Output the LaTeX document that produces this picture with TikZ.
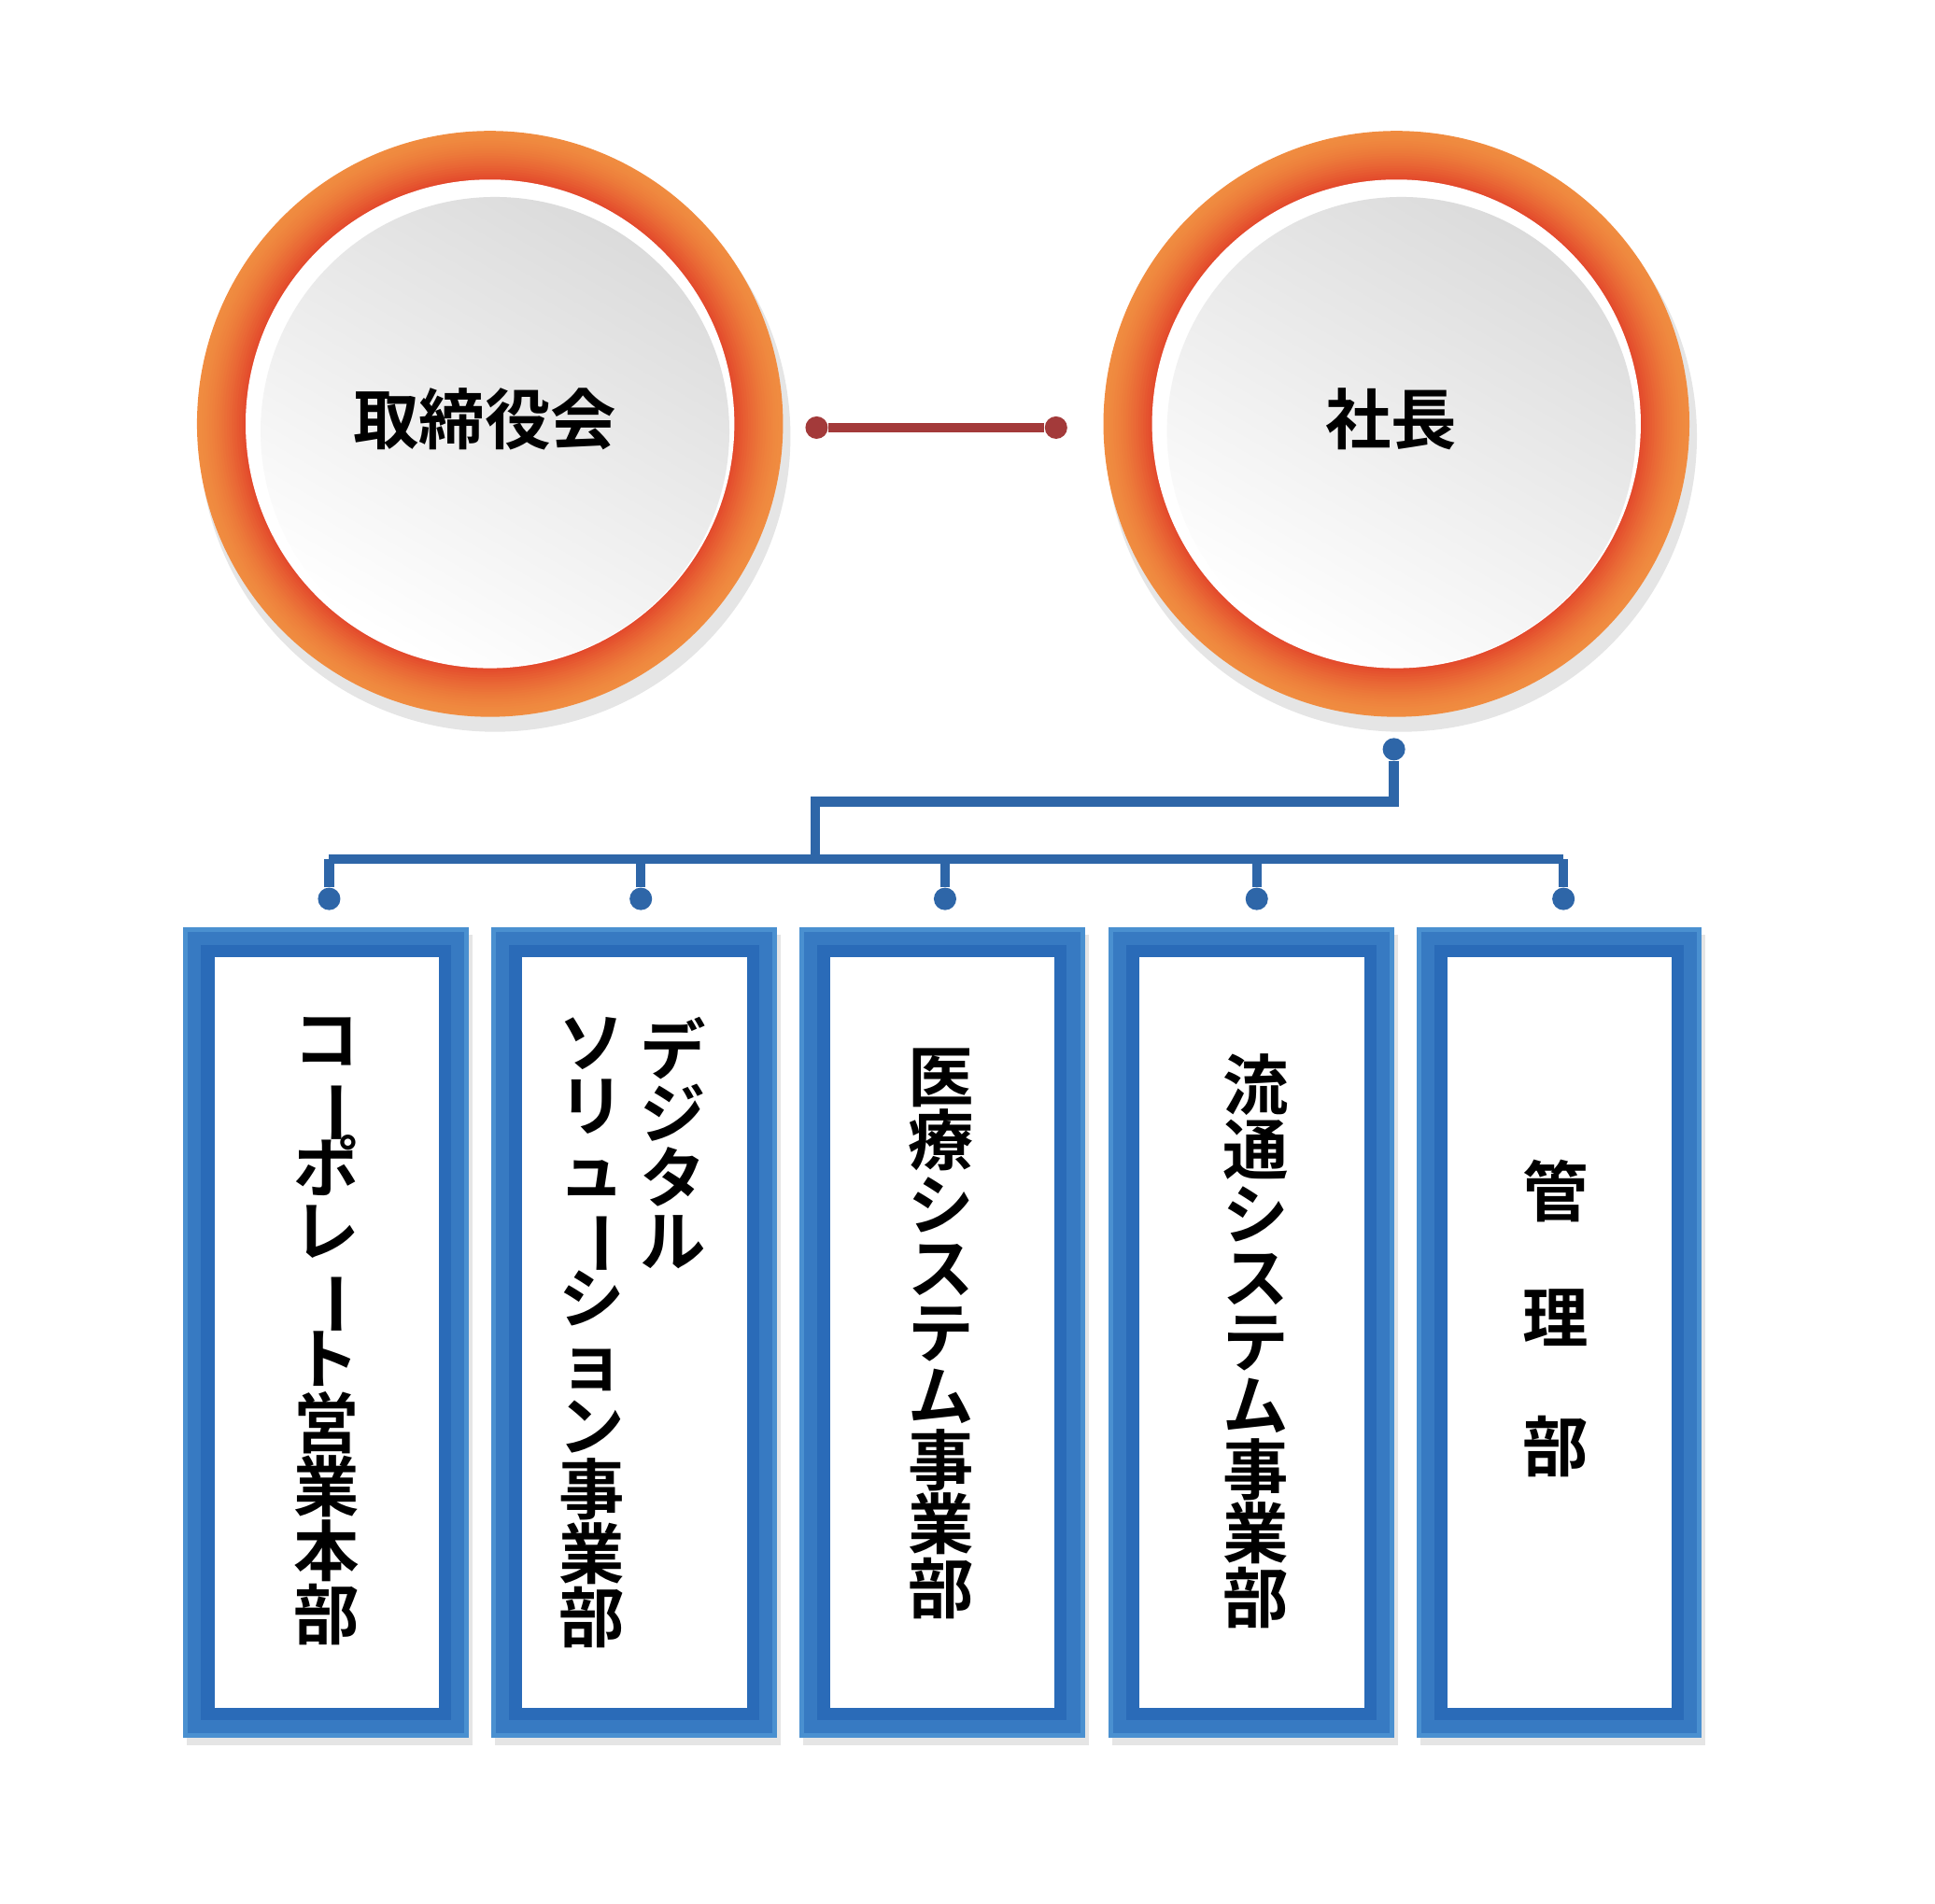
\documentclass[tikz,border=0pt]{standalone}
\usepackage{fontspec}
\setmainfont{Noto Sans CJK JP}[BoldFont={Noto Sans CJK JP Bold}]
\definecolor{ringred}{HTML}{E2432A}
\definecolor{ringor}{HTML}{F08C40}
\definecolor{linered}{HTML}{A33A3A}
\definecolor{lineblue}{HTML}{2E66A8}
\definecolor{frameblue}{HTML}{4A90D0}
\definecolor{framedark}{HTML}{2A6BB8}
\newcommand{\V}{\smash{\rotatebox[origin=c]{-90}{ー}}}
\tikzset{
  dotr/.style={circle,fill=linered,inner sep=0pt,minimum size=0.18cm},
  dotb/.style={circle,fill=lineblue,inner sep=0pt,minimum size=0.18cm},
  vtxt/.style={anchor=north,align=center,font=\fontsize{15pt}{14.6pt}\selectfont\bfseries,inner sep=0pt},
  ctxt/.style={font=\fontsize{15pt}{18pt}\selectfont\bfseries}
}
\begin{document}
\begin{tikzpicture}[x=0.01cm,y=-0.01cm]
\useasboundingbox[fill=white] (0,0) rectangle (1552,1527);
% circles
\foreach \cx/\nm/\t in {393/bd/取締役会,1120/pr/社長}{
  \fill[black,opacity=0.10] (\cx+4,350) circle (237);
  \foreach \i in {0,...,20}{
    \pgfmathsetmacro{\p}{100*(\i/20)^1.5}
    \fill[ringred!\p!ringor] (\cx,340) circle ({235-\i*2});
  }
  \fill[white] (\cx,340) circle (196);
  \shade[top color=gray!28,bottom color=white,shading angle=-30] (\cx+4,346) circle (188);
  \node[ctxt] (\nm) at (\cx-4,336) {\t};
}
% red connector
\node[dotr] (r1) at (655,343) {};
\node[dotr] (r2) at (847,343) {};
\draw[linered,line width=2.2pt] (r1) -- (r2);
% boxes
\foreach \x in {147,394,641,889,1136}{
  \fill[black,opacity=0.10] (\x+3,750) rectangle (\x+232,1400);
  \fill[frameblue] (\x,744) rectangle (\x+229,1394);
  \draw[framedark,line width=4pt] (\x+19,763) rectangle (\x+210,1375);
  \draw[framedark!60!frameblue,line width=3pt] (\x+9,753) rectangle (\x+220,1385);
  \fill[white] (\x+25,768) rectangle (\x+205,1370);
}
% blue tree
\node[dotb] (top) at (1118,601) {};
\coordinate (j1) at (1118,643);
\coordinate (j2) at (654,643);
\coordinate (j3) at (654,689);
\foreach \i/\x in {1/264,2/514,3/758,4/1008,5/1254}{
  \node[dotb] (d\i) at (\x,721) {};
  \coordinate (h\i) at (\x,689);
}
\draw[lineblue,line width=2.2pt] (top) -- (j1) -- (j2) -- (j3);
\draw[lineblue,line width=2.2pt] (h1) -- (h5);
\foreach \i in {1,...,5}{\draw[lineblue,line width=2.2pt] (h\i) -- (d\i);}
% texts
\node[vtxt] (t1) at (262,815) {コ\\\V\\ポ\\レ\\\V\\ト\\営\\業\\本\\部};
\node[vtxt] (t2a) at (540,815) {デ\\ジ\\タ\\ル};
\node[vtxt] (t2b) at (475,815) {ソ\\リ\\ュ\\\V\\シ\\ョ\\ン\\事\\業\\部};
\node[vtxt] (t3) at (755,840) {医\\療\\シ\\ス\\テ\\ム\\事\\業\\部};
\node[vtxt] (t4) at (1007,845) {流\\通\\シ\\ス\\テ\\ム\\事\\業\\部};
\node[ctxt] (t5a) at (1248,955) {管};
\node[ctxt] (t5b) at (1248,1057) {理};
\node[ctxt] (t5c) at (1248,1160) {部};
\end{tikzpicture}
\end{document}
